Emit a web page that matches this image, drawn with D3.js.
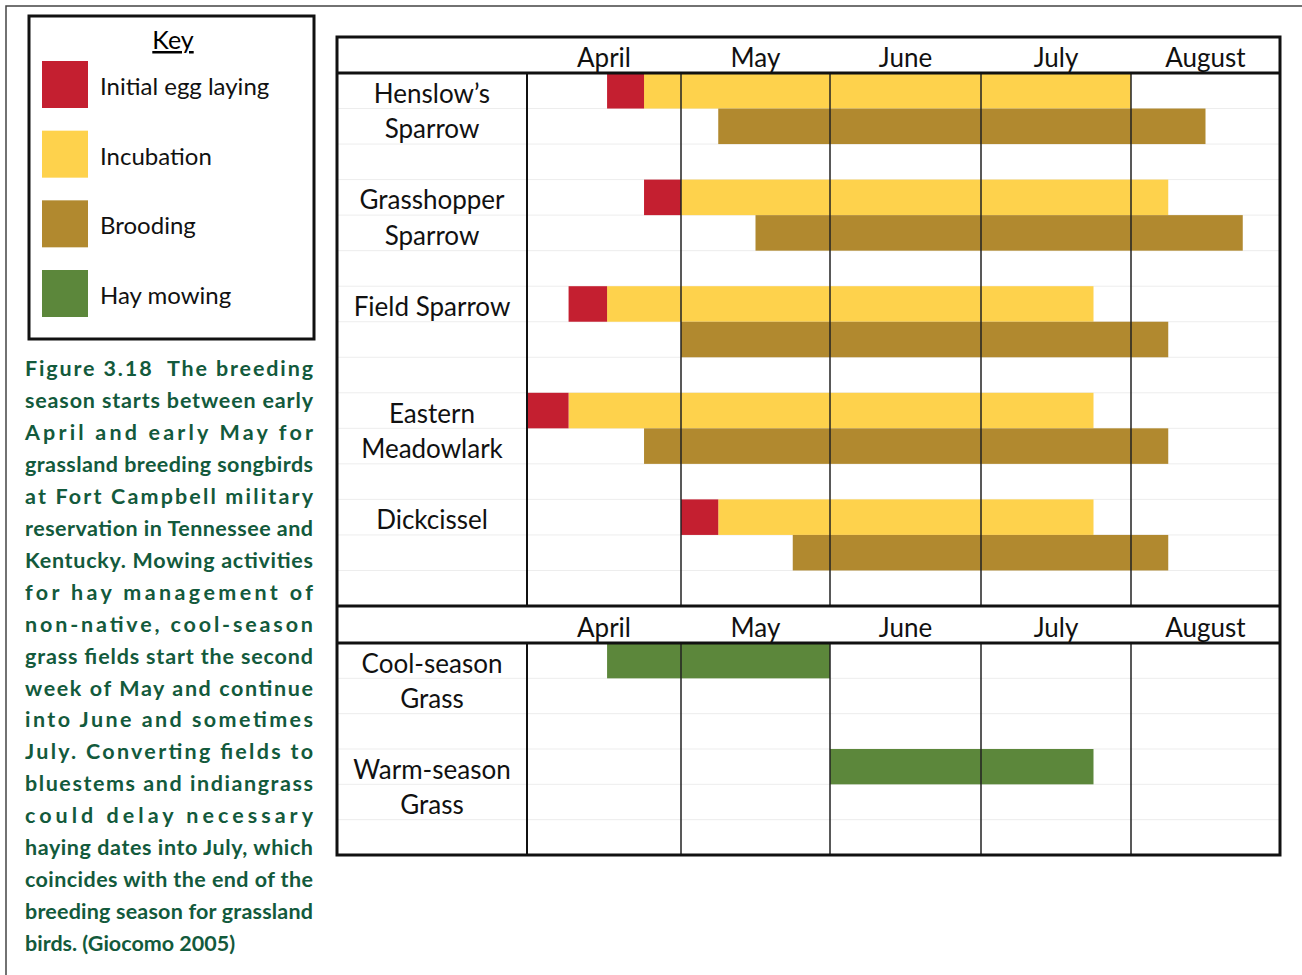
<!DOCTYPE html>
<html>
<head>
<meta charset="utf-8">
<script src="https://cdn.jsdelivr.net/npm/d3@7"></script>
<style>
  body { margin: 0; background: #fff; }
  svg { display: block; }
</style>
</head>
<body>
<div id="chart"></div>
<script>
// months along the top, positions are in month units from the start of April
const months = ['April', 'May', 'June', 'July', 'August'];

const birdLabels = [
  ['Henslow\u2019s', 'Sparrow'],
  ['Grasshopper', 'Sparrow'],
  ['Field Sparrow'],
  ['Eastern', 'Meadowlark'],
  ['Dickcissel']
];
const eggLaying = [[0.52, 0.76], [0.76, 1], [0.27, 0.52], [0, 0.27], [1, 1.25]];
const incubation = [[0.76, 4], [1, 4.25], [0.52, 3.75], [0.27, 3.75], [1.25, 3.75]];
const brooding = [[1.25, 4.5], [1.5, 4.75], [1, 4.25], [0.76, 4.25], [1.75, 4.25]];

const grassLabels = [['Cool-season', 'Grass'], ['Warm-season', 'Grass']];
const hayMowing = [[0.52, 2], [2, 3.75]];

const keyLabels = ['Initial egg laying', 'Incubation', 'Brooding', 'Hay mowing'];
const keyColors = ['#c41f30', '#fed24c', '#b1892f', '#5c873b'];

const captionLines = [
  'Figure 3.18  The breeding',
  'season starts between early',
  'April and early May for',
  'grassland breeding songbirds',
  'at Fort Campbell military',
  'reservation in Tennessee and',
  'Kentucky. Mowing activities',
  'for hay management of',
  'non-native, cool-season',
  'grass fields start the second',
  'week of May and continue',
  'into June and sometimes',
  'July. Converting fields to',
  'bluestems and indiangrass',
  'could delay necessary',
  'haying dates into July, which',
  'coincides with the end of the',
  'breeding season for grassland',
  'birds. (Giocomo 2005)'
];

const fontFamily = 'Lato, "Open Sans", sans-serif';
const W = 1302;
const H = 975;

const svg = d3.select('#chart')
  .append('svg')
  .attr('width', W)
  .attr('height', H);

svg.append('rect').attr('width', W).attr('height', H).attr('fill', '#fff');

// outer page frame (top and left only)
svg.append('path')
  .attr('d', 'M6,' + H + 'V6H' + W)
  .attr('fill', 'none')
  .attr('stroke', '#444')
  .attr('stroke-width', 1.5);

// ---- Key box
const key = svg.append('g');
key.append('rect')
  .attr('x', 29).attr('y', 16)
  .attr('width', 285).attr('height', 323)
  .attr('fill', 'none')
  .attr('stroke', '#111')
  .attr('stroke-width', 3);
key.append('text')
  .attr('x', 173).attr('y', 49)
  .attr('text-anchor', 'middle')
  .attr('text-decoration', 'underline')
  .style('font-family', fontFamily)
  .style('font-size', '25px')
  .text('Key');

const keyY = d3.scalePoint().domain(keyLabels).range([61, 270]);
key.selectAll('.swatch')
  .data(keyLabels)
  .enter()
  .append('rect')
  .attr('class', 'swatch')
  .attr('x', 42)
  .attr('y', (d) => keyY(d))
  .attr('width', 46)
  .attr('height', 47)
  .attr('fill', (d, i) => keyColors[i]);
key.selectAll('.klabel')
  .data(keyLabels)
  .enter()
  .append('text')
  .attr('class', 'klabel')
  .attr('x', 100)
  .attr('y', (d) => keyY(d) + 34)
  .style('font-family', fontFamily)
  .style('font-size', '24px')
  .style('fill', '#111')
  .text((d) => d);

// ---- Caption, justified line by line
const cap = svg.append('g');
cap.selectAll('text')
  .data(captionLines)
  .enter()
  .append('text')
  .attr('x', 25)
  .attr('y', (d, i) => 376 + i * 31.95)
  .attr('textLength', (d, i) => (i < captionLines.length - 1 ? 288 : null))
  .attr('lengthAdjust', 'spacing')
  .style('font-family', fontFamily)
  .style('font-weight', 'bold')
  .style('font-size', '21.5px')
  .style('fill', '#135a3c')
  .style('white-space', 'pre')
  .text((d) => d);

// ---- Table
const left = 337;
const right = 1280;
const labelRight = 527;
const top1 = 37;
const head1 = 73;
const sec1 = 606;
const head2 = 643;
const bottom = 855;

const x = d3.scaleLinear()
  .domain([0, 1, 2, 3, 4, 5])
  .range([labelRight, 681, 830, 981, 1131, right]);

const yBird = d3.scaleBand().domain(d3.range(birdLabels.length * 3)).range([head1, sec1]);
const yHay = d3.scaleBand().domain(d3.range(grassLabels.length * 3)).range([head2, bottom]);

const g = svg.append('g');

// faint row lines
const faintRows = yBird.domain().slice(1).map((r) => yBird(r))
  .concat(yHay.domain().slice(1).map((r) => yHay(r)));
g.selectAll('.rowline')
  .data(faintRows)
  .enter()
  .append('line')
  .attr('class', 'rowline')
  .attr('x1', left).attr('x2', right)
  .attr('y1', (d) => d).attr('y2', (d) => d)
  .attr('stroke', '#ededed')
  .attr('stroke-width', 1);

// bars
function drawBars(data, rowOffset, color, yScale) {
  g.selectAll(null)
    .data(data)
    .enter()
    .append('rect')
    .attr('x', (d) => x(d[0]))
    .attr('width', (d) => x(d[1]) - x(d[0]))
    .attr('y', (d, i) => yScale(i * 3 + rowOffset))
    .attr('height', yScale.bandwidth())
    .attr('fill', color);
}
drawBars(incubation, 0, keyColors[1], yBird);
drawBars(eggLaying, 0, keyColors[0], yBird);
drawBars(brooding, 1, keyColors[2], yBird);
drawBars(hayMowing, 0, keyColors[3], yHay);

// month divider lines
const dividers = d3.range(1, months.length);
[[head1, sec1], [head2, bottom]].forEach((span) => {
  g.selectAll(null)
    .data(dividers)
    .enter()
    .append('line')
    .attr('x1', (d) => x(d)).attr('x2', (d) => x(d))
    .attr('y1', span[0]).attr('y2', span[1])
    .attr('stroke', '#222')
    .attr('stroke-width', 1.5);
  g.append('line')
    .attr('x1', labelRight).attr('x2', labelRight)
    .attr('y1', span[0]).attr('y2', span[1])
    .attr('stroke', '#111')
    .attr('stroke-width', 2);
});

// header rows
[[top1, head1], [sec1, head2]].forEach((span) => {
  g.selectAll(null)
    .data(months)
    .enter()
    .append('text')
    .attr('x', (d, i) => (x(i) + x(i + 1)) / 2)
    .attr('y', span[1] - 6)
    .attr('text-anchor', 'middle')
    .style('font-family', fontFamily)
    .style('font-size', '26px')
    .style('fill', '#111')
    .text((d) => d);
});

// row labels
function drawLabels(labels, yScale) {
  labels.forEach((lines, i) => {
    lines.forEach((line, j) => {
      g.append('text')
        .attr('x', (left + labelRight) / 2)
        .attr('y', yScale(i * 3 + j) + yScale.bandwidth() / 2 + 12)
        .attr('text-anchor', 'middle')
        .style('font-family', fontFamily)
        .style('font-size', '26px')
        .style('fill', '#111')
        .text(line);
    });
  });
}
drawLabels(birdLabels, yBird);
drawLabels(grassLabels, yHay);

// heavy rules
[head1, sec1, head2].forEach((yy) => {
  g.append('line')
    .attr('x1', left).attr('x2', right)
    .attr('y1', yy).attr('y2', yy)
    .attr('stroke', '#111')
    .attr('stroke-width', 3);
});
g.append('rect')
  .attr('x', left).attr('y', top1)
  .attr('width', right - left).attr('height', bottom - top1)
  .attr('fill', 'none')
  .attr('stroke', '#111')
  .attr('stroke-width', 3);
</script>
</body>
</html>
